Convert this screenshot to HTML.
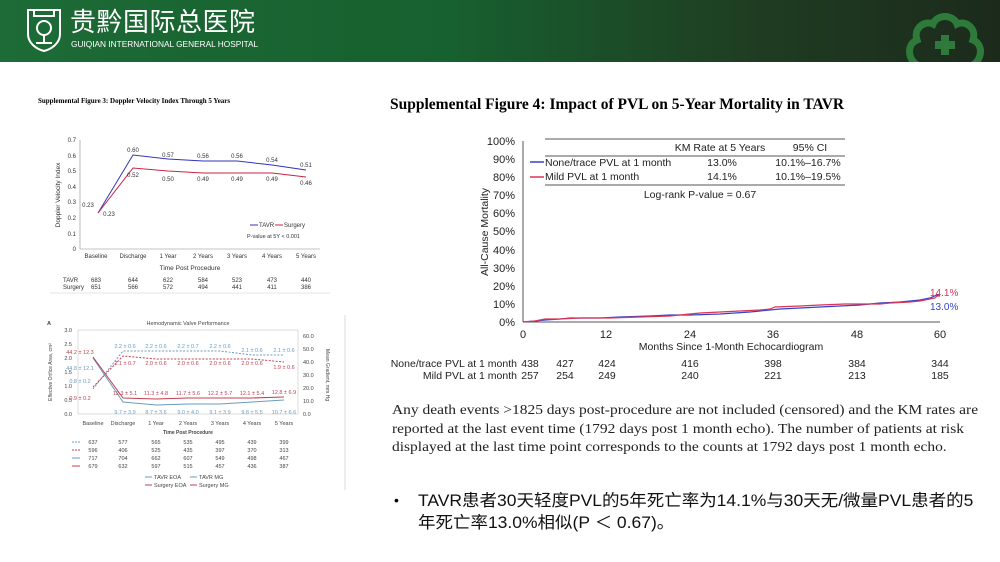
<!DOCTYPE html>
<html><head><meta charset="utf-8"><style>
body{margin:0;width:1000px;height:562px;overflow:hidden;background:#fff;font-family:"Liberation Sans","Noto Sans CJK SC",sans-serif;position:relative}
.hdr{position:absolute;left:0;top:0;width:1000px;height:62px;background:linear-gradient(90deg,#1d6b36 0%,#17602f 45%,#1f3d22 75%,#1c2a1c 100%)}
.t{position:absolute;white-space:nowrap}
</style></head><body>
<div class="hdr"></div>
<svg class="t" style="left:24px;top:6px" width="40" height="48" viewBox="0 0 40 46"><path d="M4 3h32v24c0 9-8 15-16 17C12 42 4 36 4 27z" fill="none" stroke="#fff" stroke-width="2"/><path d="M10 3v6h20V3" fill="none" stroke="#fff" stroke-width="2"/><circle cx="20" cy="21" r="7" fill="none" stroke="#fff" stroke-width="2"/><path d="M20 28v8M12 36h16" stroke="#fff" stroke-width="2"/></svg>
<div class="t" style="left:70px;top:3px;color:#fff;font-size:26px;line-height:36px;letter-spacing:0.5px;font-family:'Noto Sans CJK SC',sans-serif">贵黔国际总医院</div>
<div class="t" style="left:71px;top:39px;color:#fff;font-size:8.3px;letter-spacing:0px">GUIQIAN INTERNATIONAL GENERAL HOSPITAL</div>
<svg class="t" style="left:905px;top:10px" width="80" height="52" viewBox="0 0 80 52"><path d="M12 55C2 48 2 34 12 30 8 18 20 10 28 14 32 4 48 4 52 14 60 10 72 18 68 30 78 34 78 48 68 55" fill="none" stroke="#2e7a3a" stroke-width="7"/><path d="M40 25v20M30 35h20" stroke="#2e7a3a" stroke-width="8"/></svg>

<!-- Fig 3 -->
<div class="t" style="left:38px;top:97px;font-size:7px;font-weight:bold;font-family:'Liberation Serif',serif">Supplemental Figure 3: Doppler Velocity Index Through 5 Years</div>
<svg class="t" style="left:30px;top:130px" width="300" height="170" font-family="Liberation Sans" font-size="6" fill="#333">
<g transform="translate(-30,-130)">
<line x1="80" y1="140" x2="80" y2="249" stroke="#888" stroke-width=".6"/><line x1="80" y1="249" x2="320" y2="249" stroke="#888" stroke-width=".6"/>
<g text-anchor="end"><text x="76" y="142">0.7</text><text x="76" y="158">0.6</text><text x="76" y="173">0.5</text><text x="76" y="189">0.4</text><text x="76" y="204">0.3</text><text x="76" y="220">0.2</text><text x="76" y="236">0.1</text><text x="76" y="251">0</text></g>
<text transform="translate(60,195) rotate(-90)" text-anchor="middle" font-size="6.5">Doppler Velocity Index</text>
<polyline points="98,213 133,155 168,159 203,161 237,161 272,165 306,170" fill="none" stroke="#3333bb" stroke-width="1"/>
<polyline points="98,213 133,168 168,171 203,173 237,173 272,173 306,177" fill="none" stroke="#cc2244" stroke-width="1"/>
<g text-anchor="middle"><text x="133" y="152">0.60</text><text x="168" y="157">0.57</text><text x="203" y="158">0.56</text><text x="237" y="158">0.56</text><text x="272" y="162">0.54</text><text x="306" y="167">0.51</text>
<text x="133" y="177">0.52</text><text x="168" y="181">0.50</text><text x="203" y="181">0.49</text><text x="237" y="181">0.49</text><text x="272" y="181">0.49</text><text x="306" y="185">0.46</text>
<text x="88" y="207">0.23</text><text x="109" y="216">0.23</text>
<text x="96" y="258">Baseline</text><text x="133" y="258">Discharge</text><text x="168" y="258">1 Year</text><text x="203" y="258">2 Years</text><text x="237" y="258">3 Years</text><text x="272" y="258">4 Years</text><text x="306" y="258">5 Years</text>
<text x="190" y="270" font-size="6.5">Time Post Procedure</text>
<text x="96" y="282">683</text><text x="133" y="282">644</text><text x="168" y="282">622</text><text x="203" y="282">584</text><text x="237" y="282">523</text><text x="272" y="282">473</text><text x="306" y="282">440</text>
<text x="96" y="289">651</text><text x="133" y="289">566</text><text x="168" y="289">572</text><text x="203" y="289">494</text><text x="237" y="289">441</text><text x="272" y="289">411</text><text x="306" y="289">386</text></g>
<text x="63" y="282">TAVR</text><text x="63" y="289">Surgery</text>
<line x1="250" y1="225" x2="258" y2="225" stroke="#3333bb"/><text x="259" y="227">TAVR</text>
<line x1="275" y1="225" x2="283" y2="225" stroke="#cc2244"/><text x="284" y="227">Surgery</text>
<text x="247" y="238" font-size="5.5">P-value at 5Y &lt; 0.001</text>
<line x1="50" y1="293" x2="330" y2="293" stroke="#ccc" stroke-width=".5"/>
</g></svg>

<!-- Fig A -->
<svg class="t" style="left:30px;top:312px" width="320" height="190" font-family="Liberation Sans" font-size="5.5" fill="#444">
<g transform="translate(-30,-312)">
<text x="47" y="325" font-weight="bold">A</text>
<text x="188" y="325" text-anchor="middle">Hemodynamic Valve Performance</text>
<line x1="345" y1="315" x2="345" y2="490" stroke="#ddd"/>
<rect x="78" y="330" width="220" height="84" fill="none" stroke="#bbb" stroke-width=".5"/>
<g text-anchor="end"><text x="72" y="332">3.0</text><text x="72" y="346">2.5</text><text x="72" y="360">2.0</text><text x="72" y="374">1.5</text><text x="72" y="388">1.0</text><text x="72" y="402">0.5</text><text x="72" y="416">0.0</text></g>
<g><text x="303" y="338">60.0</text><text x="303" y="351">50.0</text><text x="303" y="364">40.0</text><text x="303" y="377">30.0</text><text x="303" y="390">20.0</text><text x="303" y="403">10.0</text><text x="303" y="416">0.0</text></g>
<text transform="translate(52,372) rotate(-90)" text-anchor="middle" font-size="5">Effective Orifice Area, cm²</text>
<text transform="translate(326,375) rotate(90)" text-anchor="middle" font-size="5">Mean Gradient, mm Hg</text>
<polyline points="93,389 123,351 156,351 188,351 220,351 252,355 284,355" fill="none" stroke="#6a9bc0" stroke-dasharray="2,1.5"/>
<polyline points="93,387 123,356 156,359 188,359 220,359 252,359 284,362" fill="none" stroke="#c04050" stroke-dasharray="2,1.5"/>
<polyline points="93,358 123,402 156,405 188,404 220,404 252,402 284,400" fill="none" stroke="#6a9bc0"/>
<polyline points="93,357 123,398 156,399 188,398 220,398 252,398 284,397" fill="none" stroke="#c04050"/>
<g text-anchor="middle" fill="#6a9bc0"><text x="125" y="348">2.2 ± 0.6</text><text x="156" y="348">2.2 ± 0.6</text><text x="188" y="348">2.2 ± 0.7</text><text x="220" y="348">2.2 ± 0.6</text><text x="252" y="352">2.1 ± 0.6</text><text x="284" y="352">2.1 ± 0.6</text>
<text x="80" y="370">44.8 ± 12.1</text><text x="80" y="383">0.8 ± 0.2</text>
<text x="125" y="414">9.7 ± 3.9</text><text x="156" y="414">8.7 ± 3.6</text><text x="188" y="414">9.0 ± 4.0</text><text x="220" y="414">9.1 ± 3.9</text><text x="252" y="414">9.8 ± 5.5</text><text x="284" y="414">10.7 ± 6.6</text></g>
<g text-anchor="middle" fill="#c04050"><text x="80" y="354">44.2 ± 12.3</text><text x="80" y="400">0.9 ± 0.2</text>
<text x="125" y="365">2.1 ± 0.7</text><text x="156" y="365">2.0 ± 0.6</text><text x="188" y="365">2.0 ± 0.6</text><text x="220" y="365">2.0 ± 0.6</text><text x="252" y="365">2.0 ± 0.6</text><text x="284" y="369">1.9 ± 0.6</text>
<text x="125" y="395">12.3 ± 5.1</text><text x="156" y="395">11.3 ± 4.8</text><text x="188" y="395">11.7 ± 5.6</text><text x="220" y="395">12.2 ± 5.7</text><text x="252" y="395">12.1 ± 5.4</text><text x="284" y="394">12.8 ± 6.9</text></g>
<g text-anchor="middle"><text x="93" y="425">Baseline</text><text x="123" y="425">Discharge</text><text x="156" y="425">1 Year</text><text x="188" y="425">2 Years</text><text x="220" y="425">3 Years</text><text x="252" y="425">4 Years</text><text x="284" y="425">5 Years</text>
<text x="188" y="434" font-weight="bold" font-size="5">Time Post Procedure</text>
<text x="93" y="444">637</text><text x="123" y="444">577</text><text x="156" y="444">565</text><text x="188" y="444">535</text><text x="220" y="444">495</text><text x="252" y="444">439</text><text x="284" y="444">399</text>
<text x="93" y="452">596</text><text x="123" y="452">406</text><text x="156" y="452">525</text><text x="188" y="452">435</text><text x="220" y="452">397</text><text x="252" y="452">370</text><text x="284" y="452">313</text>
<text x="93" y="460">717</text><text x="123" y="460">704</text><text x="156" y="460">662</text><text x="188" y="460">607</text><text x="220" y="460">549</text><text x="252" y="460">498</text><text x="284" y="460">467</text>
<text x="93" y="468">679</text><text x="123" y="468">632</text><text x="156" y="468">597</text><text x="188" y="468">515</text><text x="220" y="468">457</text><text x="252" y="468">436</text><text x="284" y="468">387</text></g>
<g stroke-width="1"><line x1="72" y1="442" x2="80" y2="442" stroke="#6a9bc0" stroke-dasharray="2,1"/><line x1="72" y1="450" x2="80" y2="450" stroke="#c04050" stroke-dasharray="2,1"/><line x1="72" y1="458" x2="80" y2="458" stroke="#6a9bc0"/><line x1="72" y1="466" x2="80" y2="466" stroke="#c04050"/>
<line x1="145" y1="477" x2="152" y2="477" stroke="#6a9bc0"/><line x1="145" y1="485" x2="152" y2="485" stroke="#c04050"/><line x1="190" y1="477" x2="197" y2="477" stroke="#6a9bc0"/><line x1="190" y1="485" x2="197" y2="485" stroke="#c04050"/></g>
<text x="154" y="479">TAVR EOA</text><text x="154" y="487">Surgery EOA</text><text x="199" y="479">TAVR MG</text><text x="199" y="487">Surgery MG</text>
</g></svg>

<!-- Fig 4 -->
<div class="t" style="left:390px;top:96px;font-size:15.5px;font-weight:bold;font-family:'Liberation Serif',serif">Supplemental Figure 4: Impact of PVL on 5-Year Mortality in TAVR</div>
<svg class="t" style="left:380px;top:125px" width="620" height="275" font-family="Liberation Sans" font-size="11" fill="#222">
<g transform="translate(-380,-125)">
<line x1="523" y1="141" x2="523" y2="322" stroke="#555"/><line x1="523" y1="322" x2="940" y2="322" stroke="#555"/>
<g text-anchor="end">
<text x="515" y="145">100%</text><text x="515" y="163">90%</text><text x="515" y="181">80%</text><text x="515" y="199">70%</text><text x="515" y="217">60%</text><text x="515" y="235">50%</text><text x="515" y="254">40%</text><text x="515" y="272">30%</text><text x="515" y="290">20%</text><text x="515" y="308">10%</text><text x="515" y="326">0%</text></g>
<text transform="translate(488,232) rotate(-90)" text-anchor="middle" font-size="10.5">All-Cause Mortality</text>
<g text-anchor="middle"><text x="523" y="338">0</text><text x="606" y="338">12</text><text x="690" y="338">24</text><text x="773" y="338">36</text><text x="857" y="338">48</text><text x="940" y="338">60</text>
<text x="731" y="350" font-size="10.5">Months Since 1-Month Echocardiogram</text></g>
<line x1="545" y1="139" x2="845" y2="139" stroke="#555"/><line x1="545" y1="156" x2="845" y2="156" stroke="#555"/><line x1="545" y1="185" x2="845" y2="185" stroke="#555"/>
<text x="720" y="151" text-anchor="middle" font-size="10.5">KM Rate at 5 Years</text><text x="810" y="151" text-anchor="middle" font-size="10.5">95% CI</text>
<line x1="530" y1="162" x2="544" y2="162" stroke="#3344cc" stroke-width="1.5"/><line x1="530" y1="177" x2="544" y2="177" stroke="#dd3355" stroke-width="1.5"/>
<text x="545" y="166" font-size="10.5">None/trace PVL at 1 month</text><text x="545" y="180" font-size="10.5">Mild PVL at 1 month</text>
<g text-anchor="middle" font-size="10.5"><text x="722" y="166">13.0%</text><text x="722" y="180">14.1%</text><text x="808" y="166">10.1%–16.7%</text><text x="808" y="180">10.1%–19.5%</text><text x="700" y="198">Log-rank P-value = 0.67</text></g>
<polyline points="523,322 535,321 545,320 560,319 570,318 600,318 620,317 650,316 670,315 690,315 720,314 750,312 760,311 780,309 800,308 820,307 840,306 860,305 870,304 880,303 900,302 920,300 930,298 937,295 940,295" fill="none" stroke="#3344cc" stroke-width="1.2"/>
<polyline points="523,322 535,321 545,319 560,319 580,318 610,318 640,317 670,316 690,314 700,313 720,312 740,311 760,310 770,309 775,307 800,306 820,305 845,304 880,304 890,303 910,302 920,301 935,298 937,296 940,296" fill="none" stroke="#dd3355" stroke-width="1.2"/>
<text x="930" y="296" fill="#dd3355" font-size="10">14.1%</text><text x="930" y="310" fill="#3344cc" font-size="10">13.0%</text>
<g font-size="10.5"><text x="517" y="367" text-anchor="end">None/trace PVL at 1 month</text><text x="517" y="379" text-anchor="end">Mild PVL at 1 month</text>
<g text-anchor="middle"><text x="530" y="367">438</text><text x="565" y="367">427</text><text x="607" y="367">424</text><text x="690" y="367">416</text><text x="773" y="367">398</text><text x="857" y="367">384</text><text x="940" y="367">344</text>
<text x="530" y="379">257</text><text x="565" y="379">254</text><text x="607" y="379">249</text><text x="690" y="379">240</text><text x="773" y="379">221</text><text x="857" y="379">213</text><text x="940" y="379">185</text></g></g>
</g></svg>
<div class="t" style="left:392px;top:402px;font-size:14px;line-height:18.5px;font-family:'Liberation Serif',serif;color:#222;transform:scaleX(1.105);transform-origin:0 0">Any death events &gt;1825 days post-procedure are not included (censored) and the KM rates are<br>reported at the last event time (1792 days post 1 month echo). The number of patients at risk<br>displayed at the last time point corresponds to the counts at 1792 days post 1 month echo.</div>
<div class="t" style="left:394px;top:492px;font-size:14px">•</div>
<div class="t" style="left:418px;top:490px;font-size:16.5px;line-height:22px;color:#111;transform:scaleX(1.06);transform-origin:0 0">TAVR患者30天轻度PVL的5年死亡率为14.1%与30天无/微量PVL患者的5<br>年死亡率13.0%相似(P ＜ 0.67)。</div>
</body></html>
